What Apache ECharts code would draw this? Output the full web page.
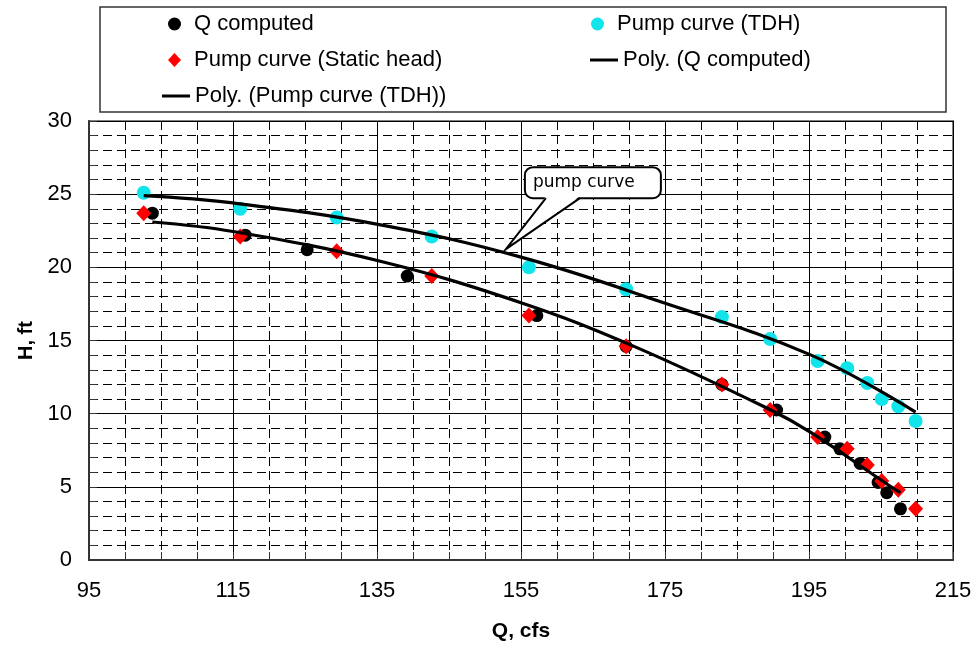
<!DOCTYPE html>
<html>
<head>
<meta charset="utf-8">
<script src="https://cdn.jsdelivr.net/npm/echarts@6/dist/echarts.min.js"></script>
<style>html,body{margin:0;padding:0;background:#fff}#c{width:975px;height:645px}</style>
</head>
<body>
<div id="c"></div>
<script>
// ---- data ----
const pumpQ   = [102.6, 116.0, 129.4, 142.6, 156.1, 169.6, 182.9, 189.6, 196.2, 200.3, 203.1, 205.1, 207.4, 209.8];
const tdhH    = [25.1, 24.0, 23.4, 22.1, 20.0, 18.5, 16.6, 15.1, 13.6, 13.1, 12.1, 11.0, 10.5, 9.5];
const staticH = [23.7, 22.1, 21.1, 19.4, 16.7, 14.6, 12.0, 10.25, 8.4, 7.6, 6.5, 5.4, 4.8, 3.5];
const compQ   = [103.8, 116.7, 125.3, 139.2, 157.2, 169.6, 182.9, 190.5, 197.2, 199.3, 202.1, 204.6, 205.8, 207.7];
const compH   = [23.7, 22.2, 21.2, 19.4, 16.7, 14.6, 12.0, 10.25, 8.4, 7.6, 6.6, 5.3, 4.6, 3.5];
// trendline points
const polyCompQ = [103.8, 115.0, 135.6, 155.2, 170.7, 189.7, 195.3, 206.4, 207.7];
const polyCompH = [23.1, 22.45, 20.4, 17.55, 14.6, 10.25, 8.7, 5.0, 4.6];
const polyTdhQ  = [102.6, 115.0, 135.5, 155.0, 174.4, 195.3, 209.8];
const polyTdhH  = [24.9, 24.4, 22.9, 20.7, 17.65, 14.0, 10.1];
const seriesNames = ['Q computed', 'Pump curve (TDH)', 'Pump curve (Static head)', 'Poly. (Q computed)', 'Poly. (Pump curve (TDH))'];
const calloutText = 'pump curve';
const calloutTip = [152.9, 21.24];

const zip = (a, b) => a.map((v, i) => [v, b[i]]);
const FONT = "'Liberation Sans', Arial, sans-serif";

const chart = echarts.init(document.getElementById('c'), null, {renderer: 'canvas'});

function legendItem(name, left, top, icon, w, h, pad) {
  return {
    data: [name], left: left, top: top, padding: 0, selectedMode: false,
    icon: icon, itemWidth: w, itemHeight: h,
    textStyle: {fontFamily: FONT, fontSize: 22, color: '#000', padding: [0, 0, 0, pad]}
  };
}

const option = {
  backgroundColor: '#fff',
  animation: false,
  legend: [
    legendItem(seriesNames[0], 168, 13, 'circle', 13, 13, 8),
    legendItem(seriesNames[1], 591, 13, 'circle', 13, 13, 8),
    legendItem(seriesNames[2], 168, 49, 'diamond', 13, 14, 8),
    legendItem(seriesNames[3], 590, 49, 'rect', 28, 3, 0),
    legendItem(seriesNames[4], 162, 85, 'rect', 28, 3, 0)
  ],
  grid: {left: 89, right: 22, top: 121, bottom: 85, outerBoundsMode: 'none', containLabel: false,
         show: true, borderColor: '#808080', borderWidth: 2, backgroundColor: 'transparent'},
  xAxis: {
    type: 'value', min: 95, max: 215, interval: 20,
    name: 'Q, cfs', nameLocation: 'middle', nameGap: 61,
    nameTextStyle: {fontFamily: FONT, fontSize: 21, fontWeight: 'bold', color: '#000'},
    axisLine: {show: true, lineStyle: {color: '#333', width: 2}},
    axisTick: {show: true, inside: true, length: 8, lineStyle: {color: '#333', width: 1}},
    minorTick: {show: true, splitNumber: 4, length: 8, lineStyle: {color: '#333', width: 1}},
    axisLabel: {fontFamily: FONT, fontSize: 22, color: '#000', margin: 20},
    splitLine: {show: true, lineStyle: {color: '#000', width: 1}},
    minorSplitLine: {show: true, lineStyle: {color: '#000', width: 1, type: [9, 5]}}
  },
  yAxis: {
    type: 'value', min: 0, max: 30, interval: 5,
    name: 'H, ft', nameLocation: 'middle', nameGap: 52, nameRotate: 90,
    nameTextStyle: {fontFamily: FONT, fontSize: 20, fontWeight: 'bold', color: '#000'},
    axisLine: {show: true, lineStyle: {color: '#333', width: 2}},
    axisTick: {show: true, inside: true, length: 8, lineStyle: {color: '#333', width: 1}},
    minorTick: {show: true, splitNumber: 5, length: 8, lineStyle: {color: '#333', width: 1}},
    axisLabel: {fontFamily: FONT, fontSize: 22, color: '#000', margin: 17},
    splitLine: {show: true, lineStyle: {color: '#000', width: 1}},
    minorSplitLine: {show: true, lineStyle: {color: '#000', width: 1, type: [9, 5]}}
  },
  series: [
    {name: seriesNames[0], type: 'scatter', data: zip(compQ, compH), symbol: 'circle', symbolSize: 13,
     itemStyle: {color: '#000', opacity: 1}, z: 2, silent: true},
    {name: seriesNames[1], type: 'scatter', data: zip(pumpQ, tdhH), symbol: 'circle', symbolSize: 14,
     itemStyle: {color: '#12e4ec', opacity: 1}, z: 2, silent: true},
    {name: seriesNames[2], type: 'scatter', data: zip(pumpQ, staticH), symbol: 'diamond', symbolSize: [15, 16],
     itemStyle: {color: '#ff0000', opacity: 1}, z: 2, silent: true},
    {name: seriesNames[3], type: 'line', data: zip(polyCompQ, polyCompH), smooth: 0.4, showSymbol: false, symbol: 'none',
     lineStyle: {color: '#000', width: 3.2}, itemStyle: {color: '#000'}, z: 3, silent: true},
    {name: seriesNames[4], type: 'line', data: zip(polyTdhQ, polyTdhH), smooth: 0.4, showSymbol: false, symbol: 'none',
     lineStyle: {color: '#000', width: 3.2}, itemStyle: {color: '#000'}, z: 3, silent: true}
  ]
};
chart.setOption(option);

// callout anchored at a data location
const tip = chart.convertToPixel({xAxisIndex: 0, yAxisIndex: 0}, calloutTip);
const x0 = tip[0] + 19, y0 = tip[1] - 82, w = 136, h = 31;
const bl = [x0 + 21, y0 + h], br = [x0 + 55, y0 + h];

chart.setOption({
  graphic: [
    {type: 'rect', z: -1, shape: {x: 100, y: 7, width: 846, height: 105},
     style: {fill: '#fff', stroke: '#333', lineWidth: 1.5}, silent: true},
    {type: 'rect', z: 10, shape: {x: x0, y: y0, width: w, height: h, r: 8},
     style: {fill: '#fff', stroke: '#000', lineWidth: 2}, silent: true},
    {type: 'polygon', z: 11, shape: {points: [[bl[0], bl[1] - 2], [tip[0], tip[1]], [br[0], br[1] - 2]]},
     style: {fill: '#fff', stroke: null}, silent: true},
    {type: 'polyline', z: 12, shape: {points: [bl, [tip[0], tip[1]], br]},
     style: {fill: null, stroke: '#000', lineWidth: 2}, silent: true},
    {type: 'text', z: 13, x: x0 + 8, y: y0 + h / 2,
     style: {text: calloutText, font: "17px 'DejaVu Sans', Verdana, sans-serif", fill: '#000', verticalAlign: 'middle'}, silent: true}
  ]
});
</script>
</body>
</html>
